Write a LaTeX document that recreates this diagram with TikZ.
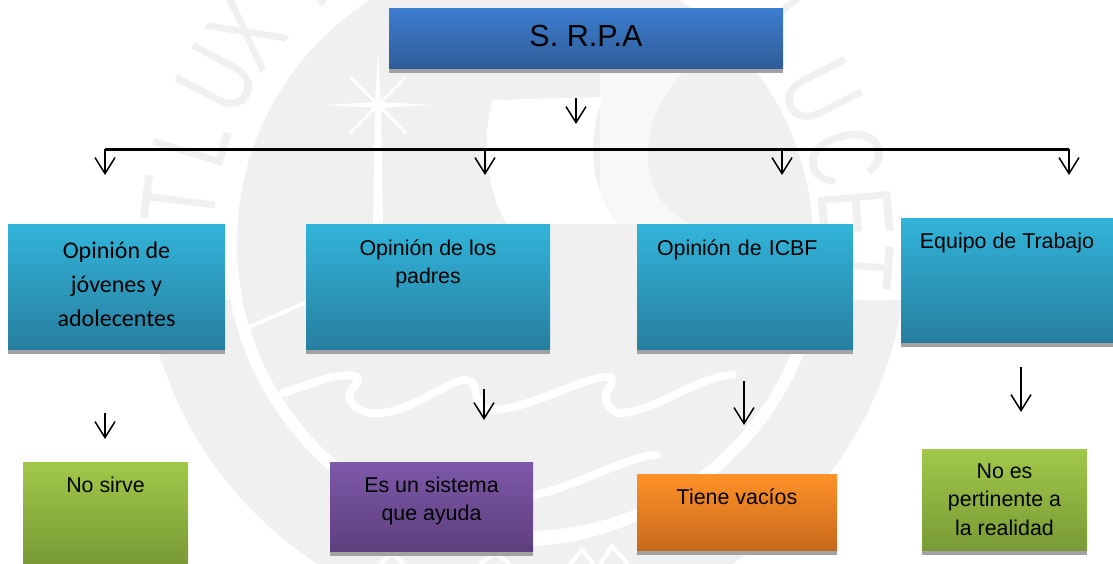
\documentclass[tikz,border=0pt]{standalone}
\usepackage{xcolor}
\usepackage{fontspec}
\usetikzlibrary{arrows.meta,shadows}
\setmainfont{Liberation Sans}
\newfontfamily\calibrifont{Carlito}
\definecolor{wmgray}{HTML}{F0F0F0}
\definecolor{wmlight}{HTML}{F8F8F8}
\definecolor{shadowgray}{HTML}{A2A2A2}

\begin{document}
\begin{tikzpicture}[x=1pt, y=-1pt,
    basebox/.style = {anchor=north west, inner sep=0pt, outer sep=0pt, align=center,
      font=\fontsize{21.4}{28.5}\selectfont,
      drop shadow={shadow xshift=0pt, shadow yshift=-4.5pt, fill=shadowgray, opacity=1}},
    bluebox/.style = {basebox, top color={rgb,255:red,61;green,125;blue,207}, bottom color={rgb,255:red,47;green,92;blue,151}},
    tealbox/.style = {basebox, top color={rgb,255:red,50;green,180;blue,218}, bottom color={rgb,255:red,39;green,127;blue,159}},
    greenbox/.style = {basebox, top color={rgb,255:red,161;green,200;blue,74}, bottom color={rgb,255:red,121;green,154;blue,53}},
    purplebox/.style = {basebox, top color={rgb,255:red,125;green,88;blue,169}, bottom color={rgb,255:red,94;green,63;blue,125}},
    orangebox/.style = {basebox, top color={rgb,255:red,255;green,146;blue,40}, bottom color={rgb,255:red,199;green,105;blue,27}},
    downarrow/.style = {draw, line width=1.5pt, -{Straight Barb[length=16pt,width=20pt]}},
    wmletter/.style = {text=wmgray, inner sep=0pt, xscale=0.72, font=\fontsize{106}{106}\selectfont}]
    \useasboundingbox (0,0) rectangle (1113,564);

    % seal behind the diagram
    \begin{scope}
      \clip (0,0) rectangle (1113,564);
      \begin{scope}
        \clip (0,300) rectangle (1113,564);
        \fill[wmgray] (525,243) circle (382);
      \end{scope}
      \fill[white] (525,243) circle (300);
      \foreach \ang/\ltr in {173/T, 163/L, 152/U, 143/X, 130/I} {
        \node[rotate=\ang-90, wmletter, name=wm\ang] at ({525+348*cos(\ang)},{243-348*sin(\ang)}) {\ltr};
      }
      \foreach \ang/\ltr in {40/L, 27/U, 15/C, 5/E, -4/T} {
        \node[rotate=\ang-90, wmletter, name=wmr\ltr] at ({525+332*cos(\ang)},{243-332*sin(\ang)}) {\ltr};
      }
      \fill[wmgray] (525,243) circle (288);
      \fill[wmlight] (600,73) -- (683,73) .. controls (635,120) and (635,200) .. (690,224) -- (600,224) -- cycle;
      \fill[white] (493,100) -- (603,97) .. controls (590,130) and (585,180) .. (617,224) -- (507,224) .. controls (485,190) and (482,130) .. (493,100) -- cycle;
      % star
      \fill[white] (378,50) -- (381,105) -- (383,224) -- (373,224) -- (375,105) -- cycle;
      \fill[white] (323,105) -- (378,102) -- (433,105) -- (378,108) -- cycle;
      \draw[white, line width=2.5pt] (350,77) -- (406,133) (406,77) -- (350,133);
      % waves
      \draw[white, line width=8pt, line cap=round] (283,393) .. controls (310,385) and (340,370) .. (357,377) .. controls (365,385) and (330,395) .. (365,412) .. controls (400,420) and (440,385) .. (463,380) .. controls (485,380) and (465,400) .. (490,410) .. controls (530,410) and (585,375) .. (610,377) .. controls (620,385) and (590,395) .. (617,413) .. controls (650,415) and (700,375) .. (733,375);
      \draw[white, line width=8pt, line cap=round] (535,495) .. controls (580,485) and (630,455) .. (657,455);
      \draw[white, line width=8pt, line cap=round] (535,542) .. controls (570,540) and (610,530) .. (640,515);
      \draw[white, line width=4pt] (247,328) -- (307,302);
      \draw[white, line width=4pt] (570,564) -- (582,550) -- (594,564) (600,564) -- (612,546) -- (628,564) (380,564) -- (392,553) -- (404,564) (480,564) -- (495,553) -- (510,564);
    \end{scope}

    \node[bluebox, minimum width=394pt, minimum height=60pt, font=\fontsize{30.5}{34}\selectfont, text depth=6pt] (srpa) at (389,9) {S. R.P.A};

    \node[tealbox, minimum width=217pt, minimum height=125pt, text depth=4pt, font=\calibrifont\fontsize{24}{34}\selectfont] (jovenes) at (8,224) {Opinión de\\ jóvenes y\\ adolecentes};
    \node[tealbox, minimum width=244pt, minimum height=125pt, text depth=50pt] (padres) at (306,224) {Opinión de los\\ padres};
    \node[tealbox, minimum width=216pt, minimum height=125pt, text depth=78pt, text width=176pt, align=left] (icbf) at (637,224) {Opinión de ICBF};
    \node[tealbox, minimum width=212pt, minimum height=124pt, text depth=79pt] (equipo) at (901,218) {Equipo de Trabajo};

    \node[greenbox, minimum width=165pt, minimum height=102pt, text depth=56pt] (nosirve) at (23,462) {No sirve};
    \node[purplebox, minimum width=203pt, minimum height=89pt, text depth=16pt] (sistema) at (330,462) {Es un sistema\\ que ayuda};
    \node[orangebox, minimum width=200pt, minimum height=76pt, text depth=30pt] (vacios) at (637,474) {Tiene vacíos};
    \node[greenbox, minimum width=165pt, minimum height=101pt] (pertinente) at (922,449) {No es\\ pertinente a\\ la realidad};

    \coordinate (top1) at (576,98);
    \coordinate (top2) at (576,124);
    \coordinate (barA) at (105,149.5);
    \coordinate (barB) at (485,149.5);
    \coordinate (barC) at (782,149.5);
    \coordinate (barD) at (1069,149.5);
    \coordinate (inA) at (105,175);
    \coordinate (inB) at (485,175);
    \coordinate (inC) at (782,175);
    \coordinate (inD) at (1069,175);
    \coordinate (joA) at (105,413);
    \coordinate (joB) at (105,439);
    \coordinate (paA) at (484,389);
    \coordinate (paB) at (484,420);
    \coordinate (icA) at (744,381);
    \coordinate (icB) at (744,425);
    \coordinate (eqA) at (1021,367);
    \coordinate (eqB) at (1021,412);

    \draw[downarrow] (top1) -- (top2);
    \draw[line width=2.2pt] (barA) -- (barD);
    \foreach \from/\to in {barA/inA, barB/inB, barC/inC, barD/inD, joA/joB, paA/paB, icA/icB, eqA/eqB} {
      \draw[downarrow] (\from) -- (\to);
    }
\end{tikzpicture}
\end{document}
